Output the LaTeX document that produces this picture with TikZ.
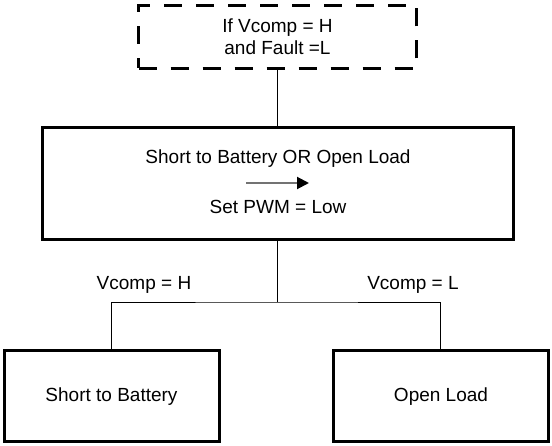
\documentclass[tikz,border=0pt]{standalone}
\usepackage{fontspec}
\setmainfont{Liberation Sans}
\usepackage{tikz}
\usetikzlibrary{arrows.meta}
\usetikzlibrary{positioning}
\tikzset{
	block/.style={draw=black, line width=3pt, inner sep=0pt},
	condbox/.style={draw=black, line width=3pt, inner sep=0pt,
		dash pattern=on 18pt off 14pt, align=center},
	link/.style={draw=black, line width=0.9pt},
	txt/.style={inner sep=0pt, align=center, font=\fontsize{19}{22}\selectfont},
	pwmarrow/.style={draw=black!55, line width=2pt,
		-{Triangle[length=12pt,width=12pt,color=black]}},
}

\begin{document}
\begin{tikzpicture}[x=1pt, y=-1pt]
	\useasboundingbox (0,0) rectangle (552,446);
	% condition box
	\node[condbox, minimum width=278pt, minimum height=63pt, font=\fontsize{19}{22}\selectfont] (cond) at (277.5,37) {If Vcomp = H\\and Fault =L};
	% main box
	\node[block, minimum width=471pt, minimum height=112pt] (main) at (277.5,184) {};
	\node[txt] (stbol) at (278,159) {Short to Battery OR Open Load};
	\coordinate (arrowstart) at (246,183);
	\coordinate (arrowend) at (309,183);
	\draw[pwmarrow] (arrowstart) -- (arrowend);
	\node[txt] (setpwm) at (278,207) {Set PWM = Low};
	% result boxes
	\node[block, minimum width=215pt, minimum height=91pt] (stb) at (111.5,396.5) {};
	\node[txt] at (111.5,397) {Short to Battery};
	\node[block, minimum width=215pt, minimum height=91pt] (ol) at (440.5,396.5) {};
	\node[txt] at (441,397) {Open Load};
	% connectors
	\coordinate (split) at (277.5,302);
	\draw[link] (cond.south) -- (main.north);
	\draw[link] (main.south) -- (split);
	\draw[link] (stb.north) |- (split) -| (ol.north);
	\node[txt] (vh) at (144,285) {Vcomp = H};
	\node[txt] (vl) at (413,285) {Vcomp = L};
\end{tikzpicture}
\end{document}
